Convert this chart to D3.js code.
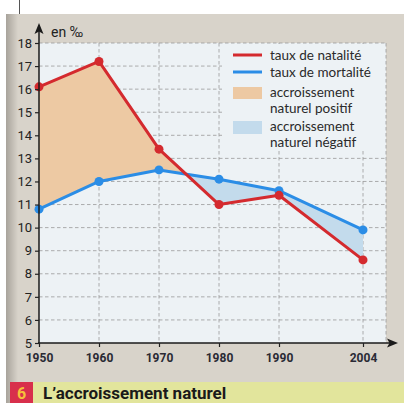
<!DOCTYPE html>
<html><head><meta charset="utf-8">
<script src="https://cdn.jsdelivr.net/npm/d3@7"></script>
<style>html,body{margin:0;padding:0;background:#fff;}svg{display:block;}</style>
</head><body>
<script>
const years = [1950, 1960, 1970, 1980, 1990, 2004];
const natalite = [16.1, 17.2, 13.4, 11.0, 11.4, 8.6];
const mortalite = [10.8, 12.0, 12.5, 12.1, 11.6, 9.9];
const yTicks = [5, 6, 7, 8, 9, 10, 11, 12, 13, 14, 15, 16, 17, 18];
const legendLabels = [["taux de natalité"], ["taux de mortalité"], ["accroissement", "naturel positif"], ["accroissement", "naturel négatif"]];
const title = "L’accroissement naturel";
const figNum = "6";
const unit = "en ‰";

const W = 404, H = 403;
const svg = d3.select("body").append("svg").attr("width", W).attr("height", H);
const defs = svg.append("defs");

// page background
svg.append("rect").attr("width", W).attr("height", H).attr("fill", "#fff");
const g0 = defs.append("linearGradient").attr("id", "edge").attr("x1", 0).attr("x2", 1);
g0.append("stop").attr("offset", 0).attr("stop-color", "#a8a39b");
g0.append("stop").attr("offset", 1).attr("stop-color", "#d8d3ca");
svg.append("rect").attr("x", 6).attr("y", 14).attr("width", W - 6).attr("height", H - 14).attr("fill", "#d8d3ca");
svg.append("rect").attr("x", 6).attr("y", 14).attr("width", 12).attr("height", H - 14).attr("fill", "url(#edge)");
svg.append("line").attr("x1", 19.5).attr("x2", 19.5).attr("y1", 0).attr("y2", 14).attr("stroke", "#555").attr("stroke-width", 1);

const x = d3.scaleLinear().domain([1950, 2004]).range([39, 363]);
const y = d3.scaleLinear().domain([5, 18]).range([343, 43]);

// plot background
svg.append("rect").attr("x", 39).attr("y", 43).attr("width", 386 - 39).attr("height", 343 - 43).attr("fill", "#edf2f5");

// grid
const grid = svg.append("g").attr("stroke", "#999").attr("stroke-width", 0.8).attr("stroke-dasharray", "3.5,2.5");
grid.selectAll("line.h").data(yTicks.filter(d => d > 5)).join("line")
  .attr("x1", 39).attr("x2", 386).attr("y1", d => y(d)).attr("y2", d => y(d));
grid.selectAll("line.v").data(years.slice(1)).join("line")
  .attr("x1", d => x(d)).attr("x2", d => x(d)).attr("y1", 43).attr("y2", 343);
grid.append("line").attr("x1", 386).attr("x2", 386).attr("y1", 43).attr("y2", 343);

const data = years.map((yr, i) => ({yr, n: natalite[i], m: mortalite[i]}));

// clip paths
defs.append("clipPath").attr("id", "belowRed").append("path")
  .attr("d", d3.area().x(d => x(d.yr)).y0(343).y1(d => y(d.n))(data));
defs.append("clipPath").attr("id", "aboveRed").append("path")
  .attr("d", d3.area().x(d => x(d.yr)).y0(0).y1(d => y(d.n))(data));

svg.append("path").attr("clip-path", "url(#belowRed)")
  .attr("d", d3.area().x(d => x(d.yr)).y0(0).y1(d => y(d.m))(data))
  .attr("fill", "#edc9a3");
svg.append("path").attr("clip-path", "url(#aboveRed)")
  .attr("d", d3.area().x(d => x(d.yr)).y0(343).y1(d => y(d.m))(data))
  .attr("fill", "#c3dbec");

// lines
const line = key => d3.line().x(d => x(d.yr)).y(d => y(d[key]));
svg.append("path").attr("d", line("m")(data)).attr("fill", "none").attr("stroke", "#2b8de6").attr("stroke-width", 3).attr("stroke-linejoin", "round");
svg.append("path").attr("d", line("n")(data)).attr("fill", "none").attr("stroke", "#d42a2e").attr("stroke-width", 3).attr("stroke-linejoin", "round");
svg.selectAll("circle.m").data(data).join("circle").attr("cx", d => x(d.yr)).attr("cy", d => y(d.m)).attr("r", 4.5).attr("fill", "#2b8de6");
svg.selectAll("circle.n").data(data).join("circle").attr("cx", d => x(d.yr)).attr("cy", d => y(d.n)).attr("r", 4.5).attr("fill", "#d42a2e");

// legend
const lg = svg.append("g");
lg.append("rect").attr("x", 222).attr("y", 44).attr("width", 163).attr("height", 106).attr("fill", "#edf2f5");
lg.append("line").attr("x1", 233).attr("x2", 262).attr("y1", 55).attr("y2", 55).attr("stroke", "#d42a2e").attr("stroke-width", 3);
lg.append("line").attr("x1", 233).attr("x2", 262).attr("y1", 72).attr("y2", 72).attr("stroke", "#2b8de6").attr("stroke-width", 3);
lg.append("rect").attr("x", 233).attr("y", 87).attr("width", 29).attr("height", 12).attr("fill", "#edc9a3");
lg.append("rect").attr("x", 233).attr("y", 121).attr("width", 29).attr("height", 13).attr("fill", "#c3dbec");
const ly = [[59.5], [76.5], [96.5, 112.5], [130.5, 146.5]];
legendLabels.forEach((lines, i) => lines.forEach((t, j) => {
  lg.append("text").attr("x", 270).attr("y", ly[i][j]).text(t)
    .attr("font-family", "Lato").attr("font-size", 13.5).attr("fill", "#2a2a2a");
}));

// axes
const ax = svg.append("g");
const yAxis = d3.axisLeft(y).tickValues(yTicks).tickSize(4).tickPadding(3).tickFormat(d3.format("d"));
const ya = svg.append("g").attr("transform", "translate(39,0)").call(yAxis);
ya.select(".domain").remove();
ya.selectAll("line").attr("stroke", "#222").attr("stroke-width", 1.2);
ya.selectAll("text").attr("font-family", "Roboto").attr("font-size", 13).attr("fill", "#222");

const xAxis = d3.axisBottom(x).tickValues(years).tickSize(4).tickPadding(6).tickFormat(d3.format("d"));
const xa = svg.append("g").attr("transform", "translate(0,343)").call(xAxis);
xa.select(".domain").remove();
xa.selectAll("line").attr("stroke", "#222").attr("stroke-width", 1.2);
xa.selectAll("text").attr("font-family", "Roboto").attr("font-weight", "bold").attr("font-size", 12).attr("fill", "#2a2a35");

ax.append("line").attr("x1", 39).attr("x2", 39).attr("y1", 343.5).attr("y2", 30).attr("stroke", "#1a1a1a").attr("stroke-width", 1.5);
ax.append("path").attr("d", "M39,23 L43.5,34 L39,31.5 L34.5,34 Z").attr("fill", "#1a1a1a");
ax.append("line").attr("x1", 38).attr("x2", 392).attr("y1", 343).attr("y2", 343).attr("stroke", "#1a1a1a").attr("stroke-width", 1.5);
ax.append("path").attr("d", "M398,343 L387,338.5 L389.5,343 L387,347.5 Z").attr("fill", "#1a1a1a");
svg.append("text").attr("x", 51).attr("y", 37).text(unit).attr("font-family", "Roboto").attr("font-size", 14).attr("fill", "#222");

// title bar
svg.append("rect").attr("x", 10).attr("y", 382).attr("width", W - 10).attr("height", H - 382).attr("fill", "#e2e59c");
svg.append("rect").attr("x", 10).attr("y", 382).attr("width", 23).attr("height", H - 382).attr("fill", "#d8304c");
svg.append("text").attr("x", 21.5).attr("y", 398.5).attr("text-anchor", "middle").text(figNum)
  .attr("font-family", "Roboto").attr("font-weight", "bold").attr("font-size", 16).attr("fill", "#f6c23a");
svg.append("text").attr("x", 43).attr("y", 398.5).text(title)
  .attr("font-family", "Roboto").attr("font-weight", "bold").attr("font-size", 17).attr("fill", "#1a1a1a");
</script>
</body></html>
